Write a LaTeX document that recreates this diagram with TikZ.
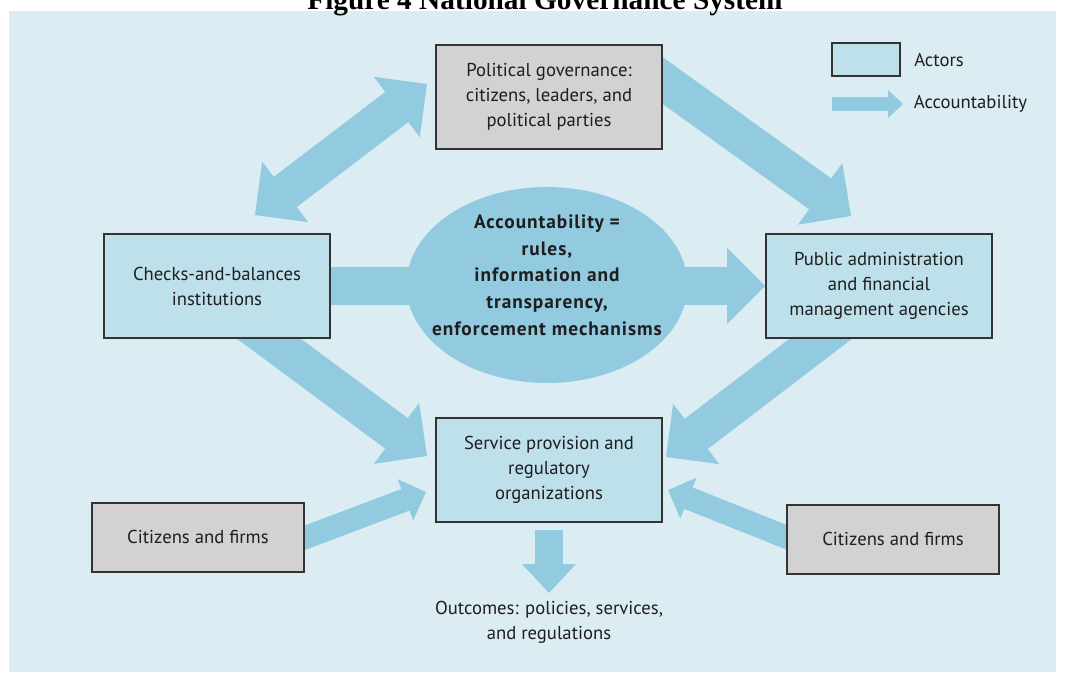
\documentclass[tikz,border=0pt]{standalone}
\usepackage{fontspec}
\setmainfont{PT Sans}
\newfontfamily\titlefont{Liberation Serif}
\usetikzlibrary{calc}
\usetikzlibrary{graphs}
\usetikzlibrary{shapes}
\usetikzlibrary{positioning}
\usetikzlibrary{arrows.meta}

\definecolor{panelblue}{HTML}{DBEDF3}
\definecolor{actorblue}{HTML}{BEE0EB}
\definecolor{actorgrey}{HTML}{D2D2D2}
\definecolor{arrowblue}{HTML}{92CAE0}
\definecolor{edgegrey}{HTML}{333333}
\definecolor{inkgrey}{HTML}{1E1E1E}

\pgfdeclarelayer{backdrop}
\pgfdeclarelayer{flow}
\pgfsetlayers{backdrop,flow,main}

\begin{document}
\begin{tikzpicture}[x=0.75pt, y=-0.75pt,
        every node/.style={inner sep=0pt, align=center, text=inkgrey, font=\fontsize{14}{18.75}\selectfont},
        actor/.style={draw=edgegrey, line width=1.5pt, fill=actorblue, minimum width=169.5pt, minimum height=78pt},
        citizen/.style={actor, fill=actorgrey, minimum width=159pt, minimum height=51.75pt},
        wide/.style={draw=arrowblue, line width=28.5pt, arrows={-{Triangle[length=28.5pt, width=57pt, line width=0pt]}}},
        both/.style={wide, arrows={{Triangle[length=28.5pt, width=57pt, line width=0pt]}-{Triangle[length=28.5pt, width=57pt, line width=0pt]}}},
        slim/.style={draw=arrowblue, line width=17.25pt, arrows={-{Triangle[length=16.5pt, width=33pt, line width=0pt]}}},
        outflow/.style={draw=arrowblue, line width=21pt, arrows={-{Triangle[length=21.75pt, width=40.5pt, line width=0pt]}}},
        keyflow/.style={draw=arrowblue, line width=10.5pt, arrows={-{Triangle[length=11.25pt, width=21pt, line width=0pt]}}}]
        \useasboundingbox (0,0) rectangle (1065,675);
        \node[font=\titlefont\bfseries\fontsize{22}{26}\selectfont, anchor=base, text=black] (title) at (545,9) {Figure 4 National Governance System};

        % actors
        \node[actor, fill=actorgrey] (political) at (549,97) {Political governance:\\citizens, leaders, and\\political parties};
        \node[actor] (checks) at (217,286) {Checks-and-balances\\institutions};
        \node[actor] (public) at (879,286) {Public administration\\and financial\\management agencies};
        \node[actor] (service) at (549,470) {Service provision and\\regulatory\\organizations};
        \node[citizen] (citizens left) at (198,537) {Citizens and firms};
        \node[citizen] (citizens right) at (893,539) {Citizens and firms};

        \node[ellipse, fill=arrowblue, minimum width=210.75pt, minimum height=147pt] (acc) at (547,285) {};
        \node[font=\bfseries\fontsize{14.5}{20}\selectfont\addfontfeatures{LetterSpace=5}] (acc text) at ($(acc.center)+(0,-10)$) {Accountability =\\rules,\\information and\\transparency,\\enforcement mechanisms};

        % legend
        \node[actor, minimum width=51pt, minimum height=24.75pt] (key box) at (866,59.5) {};
        \node[right=9.75pt of key box] (key actors) {Actors};
        \coordinate (key tail) at ($(key box.south west)+(1,27)$);
        \coordinate (key tip) at ($(key box.south east)+(2,27)$);
        \node[right=8pt of key tip] (key acc) {Accountability};

        % arrow ends
        \coordinate (acc tail) at (checks.east);
        \coordinate (acc tip) at (public.west);
        \coordinate (dbl low) at ($(checks.north)+(38,-18)$);
        \coordinate (dbl high) at ($(political.west)+(-8,-13)$);
        \coordinate (pol tail) at ($(political.east)+(-22,-32)$);
        \coordinate (pol tip) at ($(public.north)+(-28,-17)$);
        \coordinate (chk tail) at ($(checks.south)+(28,-18)$);
        \coordinate (chk tip) at ($(service.west)+(-8,-14)$);
        \coordinate (pub tail) at ($(public.south)+(-35,-18)$);
        \coordinate (pub tip) at ($(service.east)+(3,-13)$);
        \coordinate (citl tail) at ($(citizens left.east)+(-14,6)$);
        \coordinate (citl tip) at ($(service.west)+(-9,22)$);
        \coordinate (citr tail) at ($(citizens right.west)+(15,4)$);
        \coordinate (citr tip) at ($(service.east)+(5,20)$);
        \coordinate (out tail) at ($(service.south)+(0,7)$);
        \coordinate (out tip) at ($(service.south)+(0,70)$);

        \node[below=6pt of out tip] (outcomes) {Outcomes: policies, services,\\and regulations};

        \begin{pgfonlayer}{backdrop}
            \fill[panelblue] (9,11) rectangle (1056,672);
        \end{pgfonlayer}

        \begin{pgfonlayer}{flow}
            \graph { [edges={wide}]
                (acc tail) -> (acc tip),
                (pol tail) -> (pol tip),
                (chk tail) -> (chk tip),
                (pub tail) -> (pub tip),
                (dbl low) ->[both] (dbl high),
                (citl tail) ->[slim] (citl tip),
                (citr tail) ->[slim] (citr tip),
                (out tail) ->[outflow] (out tip),
                (key tail) ->[keyflow] (key tip),
            };
        \end{pgfonlayer}
    \end{tikzpicture}
\end{document}
